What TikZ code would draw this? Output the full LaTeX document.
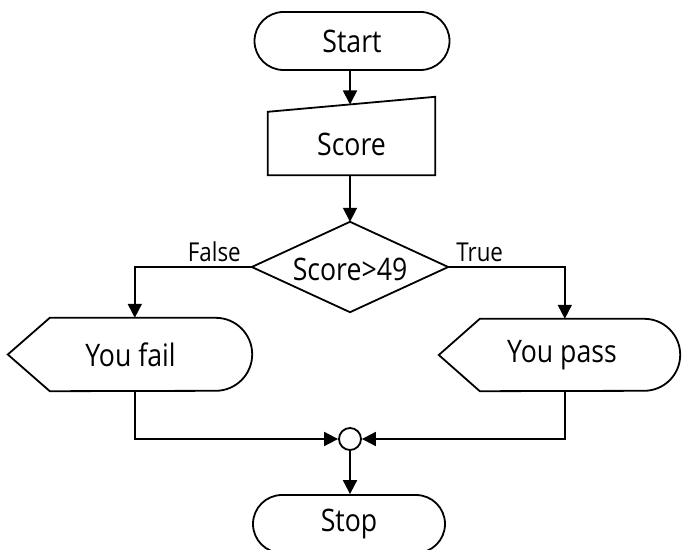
\documentclass[tikz,border=0pt]{standalone}
\usepackage{fontspec}
\setmainfont[FakeStretch=0.86]{Open Sans}
\usetikzlibrary{arrows.meta,shapes.misc,calc}
\begin{document}
\begin{tikzpicture}[x=1pt,y=1pt,
  every node/.style={font=\fontsize{31}{35}\selectfont},
  line/.style={line width=1.8pt, line join=miter},
  flow/.style={line, -{Triangle[length=14pt,width=14pt]}},
  terminal/.style={rounded rectangle, draw, line width=1.8pt, minimum height=58pt, inner sep=0pt},
  frame/.style={inner sep=0pt},
  tag/.style={font=\fontsize{26}{30}\selectfont, inner sep=0pt}]
\useasboundingbox (0,0) rectangle (682,549);
\clip (0,0) rectangle (682,549);

% start and input
\node[terminal, minimum width=195pt] (start) at (352,508) {Start};
\node[frame, minimum width=167pt, minimum height=78pt] (score) at (351.5,413) {};
\draw[line] (score.south west) -- (score.south east) -- (score.north east)
  -- ($(score.north west)+(0,-15)$) -- cycle;
\node at (351.5,405) {Score};
\coordinate (scoretop) at (350,444.5);

% decision
\node[frame, minimum width=196pt, minimum height=90pt] (dec) at (350,282) {};
\draw[line] (dec.north) -- (dec.east) -- (dec.south) -- (dec.west) -- cycle;
\node at (350,280) {Score>49};

% outputs
\node[frame, minimum width=244pt, minimum height=73pt] (fail) at (130,194.5) {};
\draw[line] (fail.west) -- ($(fail.north west)+(42,0)$) -- ($(fail.north east)+(-36.5,0)$)
  arc[start angle=90, end angle=-90, radius=36.5pt] -- ($(fail.south west)+(42,0)$) -- cycle;
\node at (130.5,194.5) {You fail};

\node[frame, minimum width=241pt, minimum height=72pt] (pass) at (559.5,194) {};
\draw[line] (pass.west) -- ($(pass.north west)+(41,0)$) -- ($(pass.north east)+(-36,0)$)
  arc[start angle=90, end angle=-90, radius=36pt] -- ($(pass.south west)+(41,0)$) -- cycle;
\node at (562,194) {You pass};

% merge and stop
\node[circle, draw, line width=1.8pt, minimum size=22pt, inner sep=0pt] (join) at (350,110) {};
\node[terminal, minimum width=192pt] (stop) at (349,25) {Stop};

% connectors
\draw[flow] (start.south -| scoretop) -- (scoretop);
\draw[flow] (score.south -| dec.north) -- (dec.north);
\draw[flow] (dec.west) -| ($(fail.north west)+(127,0)$) node[pos=0.16, above=4pt, tag] {False};
\draw[flow] (dec.east) -| ($(pass.north west)+(126,0)$) node[pos=0.135, above=4pt, tag] {True};
\draw[flow] ($(fail.south west)+(127,0)$) |- (join.west);
\draw[flow] ($(pass.south west)+(126,0)$) |- (join.east);
\draw[flow] (join.south) -- (stop.north -| join.south);
\end{tikzpicture}
\end{document}
